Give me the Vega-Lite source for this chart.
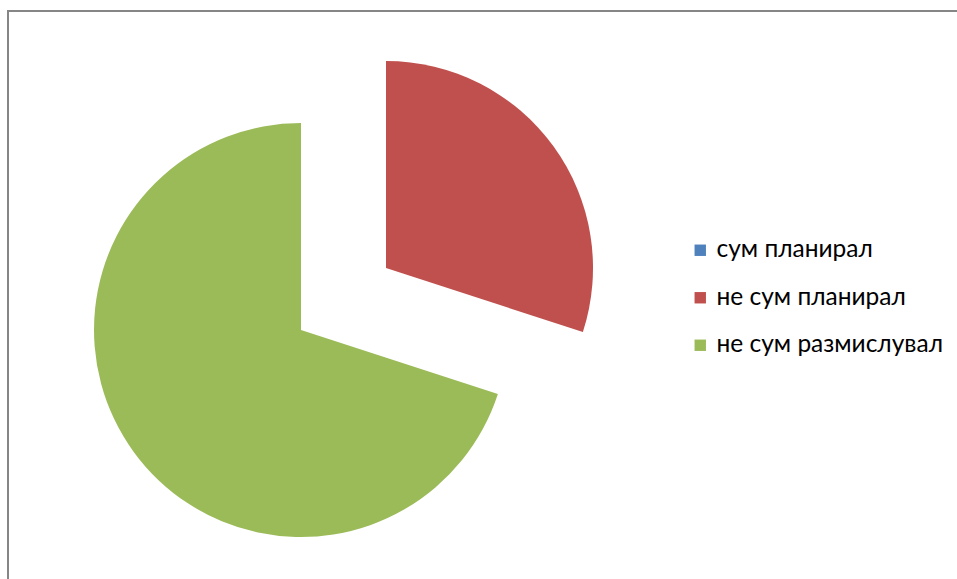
{
  "$schema": "https://vega.github.io/schema/vega-lite/v6.json",
  "width": 950,
  "height": 569,
  "autosize": {"type": "none"},
  "padding": {"left": 8, "top": 11, "right": -1, "bottom": -1},
  "background": "white",
  "view": {"stroke": "#868686", "strokeWidth": 2, "fill": "white"},
  "config": {"view": {"stroke": "#868686", "strokeWidth": 2}, "font": "Lato"},
  "data": {"values": [
    {"category": "сум планирал", "value": 0},
    {"category": "не сум планирал", "value": 30},
    {"category": "не сум размислувал", "value": 70}
  ]},
  "transform": [{"stack": "value", "groupby": [], "sort": [{"field": "category", "order": "ascending"}], "as": ["v0", "v1"]}],
  "encoding": {
    "theta": {"field": "v0", "type": "quantitative", "scale": {"domain": [0, 100]}},
    "theta2": {"field": "v1"},
    "color": {
      "field": "category",
      "type": "nominal",
      "scale": {"domain": ["сум планирал", "не сум планирал", "не сум размислувал"], "range": ["#4F81BD", "#C0504D", "#9BBB59"]},
      "legend": {
        "title": null,
        "orient": "none",
        "legendX": 680,
        "legendY": 227,
        "symbolType": "square",
        "symbolSize": 130,
        "symbolStrokeWidth": 0,
        "labelFont": "Lato",
        "labelFontSize": 24.5,
        "labelColor": "#000000",
        "labelLimit": 400,
        "rowPadding": 22.5,
        "labelOffset": 4
      }
    }
  },
  "layer": [
    {"transform": [{"filter": "datum.category === 'не сум планирал'"}], "mark": {"type": "arc", "radius": 207, "xOffset": -97, "yOffset": -27.5}},
    {"transform": [{"filter": "datum.category === 'не сум размислувал'"}], "mark": {"type": "arc", "radius": 207, "xOffset": -182, "yOffset": 34.5}}
  ]
}
